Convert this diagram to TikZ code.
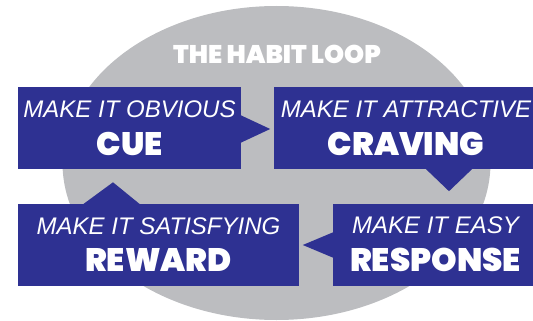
\documentclass[tikz,border=0pt]{standalone}
\usepackage{fontspec}
\setmainfont{Liberation Sans}
\newfontfamily\heavyfont{Poppins Black}
\usepackage{tikz}
\usetikzlibrary{positioning, calc}

\definecolor{loopblue}{HTML}{2E3192}
\definecolor{loopgray}{HTML}{BCBDC0}

\newcommand{\habitsub}[1]{{\fontsize{24}{24}\selectfont\itshape #1}}
\newcommand{\habitname}[1]{{\fontsize{32.5}{32}\selectfont\heavyfont #1}}

\tikzset{
  stepbox/.style={fill=loopblue, text=white, align=center, inner sep=0pt,
                  minimum height=82pt},
  pointer/.style={fill=loopblue}
}

\begin{document}
\begin{tikzpicture}[x=1pt,y=-1pt]
        \useasboundingbox (0,0) rectangle (533,321);
        \clip (0,0) rectangle (533,321);
        \fill[loopgray] (276.5,163) ellipse [x radius=214, y radius=157];
        \node[text=white, anchor=base] (title) at (277,64)
             {\fontsize{25.5}{26}\selectfont\heavyfont THE HABIT LOOP};
        \node[stepbox, minimum width=223pt] (cue)      at (129.5,128)
             {\habitsub{MAKE IT OBVIOUS}\\[13pt]\habitname{CUE}};
        \node[stepbox, minimum width=264pt] (craving)  at (406,128)
             {\habitsub{MAKE IT ATTRACTIVE}\\[13pt]\habitname{CRAVING}};
        \node[stepbox, minimum width=281pt] (reward)   at (158.5,244.5)
             {\habitsub{MAKE IT SATISFYING}\\[13pt]\habitname{REWARD}};
        \node[stepbox, minimum width=205pt] (response) at (435.5,244.5)
             {\habitsub{MAKE IT EASY}\\[13pt]\habitname{RESPONSE}};
        % pointers from one step to the next
        \fill[pointer] ($(cue.east)+(-1,-13)$) -- ($(cue.east)+(29,1)$)
                       -- ($(cue.east)+(-1,15)$) -- cycle;
        \fill[pointer] ($(craving.south)+(19,-1)$) -- ($(craving.south)+(43,22)$)
                       -- ($(craving.south)+(67,-1)$) -- cycle;
        \fill[pointer] ($(response.west)+(1,-12.5)$) -- ($(response.west)+(-30,0.5)$)
                       -- ($(response.west)+(1,13.5)$) -- cycle;
        \fill[pointer] ($(reward.north)+(-75.5,1)$) -- ($(reward.north)+(-45.5,-21)$)
                       -- ($(reward.north)+(-18.5,1)$) -- cycle;
\end{tikzpicture}
\end{document}
